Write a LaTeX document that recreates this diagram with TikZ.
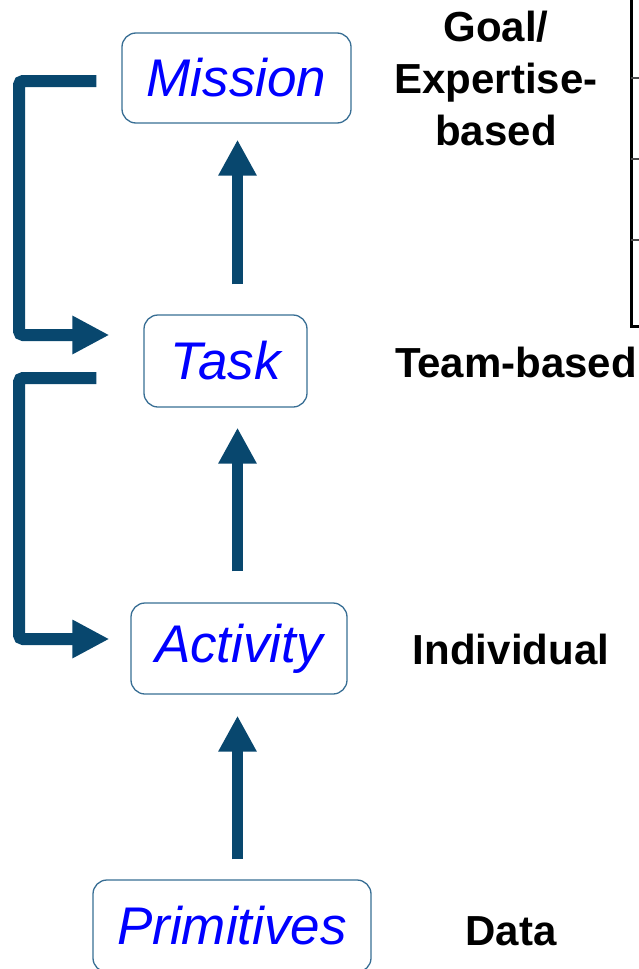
\documentclass[tikz,border=0pt]{standalone}
\usepackage{fontspec}
\setmainfont{Liberation Sans}
\usetikzlibrary{arrows.meta, calc, positioning}
\definecolor{flowblue}{rgb}{0.03, 0.28, 0.43}
\definecolor{edgeblue}{rgb}{0.22, 0.43, 0.58}

\begin{document}
\begin{tikzpicture}[x=1pt, y=-1pt,
        level/.style={draw=edgeblue, line width=1.3pt, rounded corners=14pt, inner sep=0pt,
            text=blue, font=\fontsize{53}{60}\selectfont\itshape},
        tag/.style={font=\fontsize{42}{51}\selectfont\bfseries, inner sep=0pt},
        climb/.style={draw=flowblue, line width=11.5pt, -{Triangle[length=36pt, width=36pt]}},
        loopback/.style={draw=flowblue, line width=12pt, rounded corners=4pt, -{Triangle[length=37pt, width=36pt]}}]
        \useasboundingbox (0,0) rectangle (639,969);

        \node[level, minimum width=229pt, minimum height=90pt] (mission) at (236.5,78) {Mission};
        \node[level, minimum width=163pt, minimum height=92pt] (task) at (225.5,361) {Task};
        \node[level, minimum width=216pt, minimum height=91pt] (activity) at (239,648.5) {Activity};
        \node[level, minimum width=278pt, minimum height=92pt] (prim) at (232,926) {Primitives};

        \node[tag, align=center, anchor=north] (goal) at (496,11) {Goal/\\[1pt]Expertise-\\[1pt]based};
        \node[tag, anchor=base] (team) at (516,377) {Team-based};
        \node[tag, anchor=base] (indiv) at (511,664) {Individual};
        \node[tag, anchor=base] (data) at (511,945) {Data};

        % upward steps
        \draw[climb, shorten <=30pt, shorten >=16pt] (task.north -| 237.5,0) -- (mission.south -| 237.5,0);
        \draw[climb, shorten <=31pt, shorten >=20pt] (activity.north -| 237.5,0) -- (task.south -| 237.5,0);
        \draw[climb, shorten <=20pt, shorten >=21pt] (prim.north -| 237.5,0) -- (activity.south -| 237.5,0);

        % feedback brackets
        \coordinate (rail) at (19,0);
        \coordinate (m-out) at ([xshift=-25pt, yshift=-3pt]mission.west);
        \coordinate (t-in) at ([xshift=-34pt, yshift=26pt]task.west);
        \coordinate (t-out) at ([xshift=-47pt, yshift=-17pt]task.west);
        \coordinate (a-in) at ([xshift=-21pt, yshift=9.5pt]activity.west);
        \draw[loopback] (m-out) -- (m-out -| rail) |- (t-in);
        \draw[loopback] (t-out) -- (t-out -| rail) |- (a-in);

        % edge of the table
        \draw[line width=3pt] (631,0) -- (631,326) -- (639,326);
        \foreach \y in {78,159,240}
            \draw[line width=1.5pt, black!70] (631,\y) -- (639,\y);
\end{tikzpicture}
\end{document}
